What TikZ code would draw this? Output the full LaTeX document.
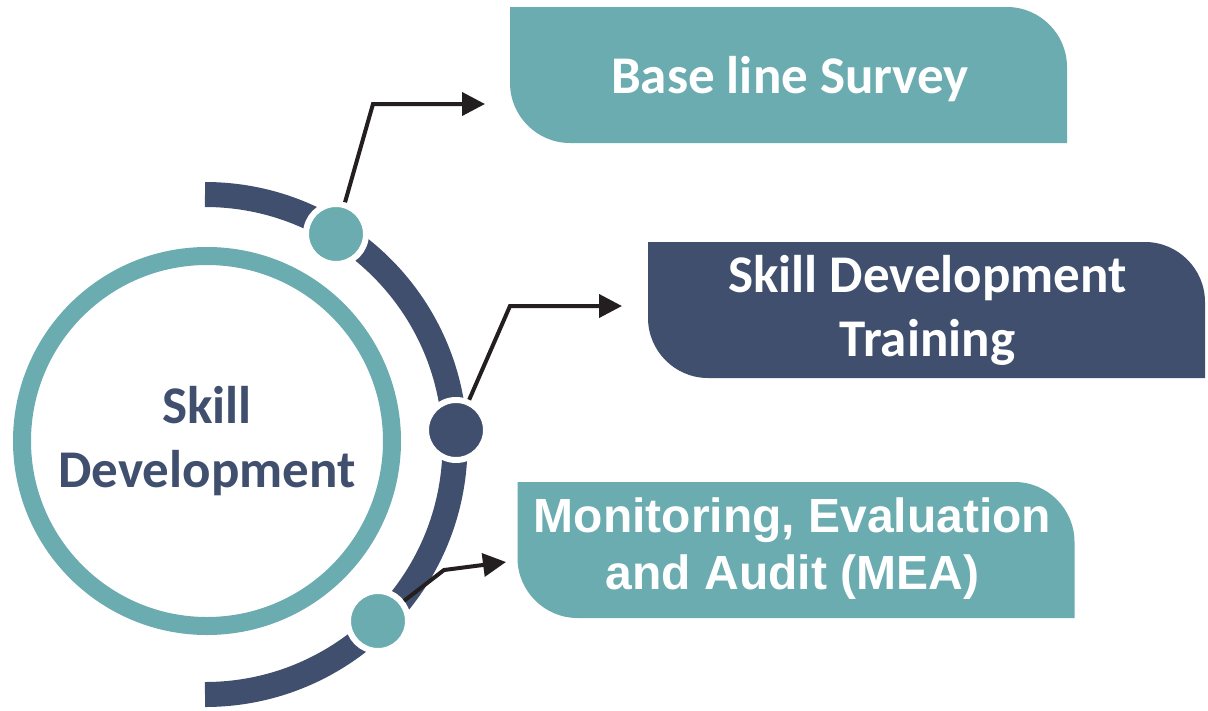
\documentclass[tikz,border=0pt]{standalone}
\usepackage{fontspec}
\newfontfamily\calfont{Carlito}
\newfontfamily\arfont{Liberation Sans}
\usetikzlibrary{arrows.meta}
\definecolor{tealc}{HTML}{6AACB0}
\definecolor{navyc}{HTML}{404F6D}
\definecolor{inkc}{HTML}{231F20}
\newcommand{\tabfill}[2]{%
  \fill[#2] (#1.north west) -- ([xshift=-60pt]#1.north east)
    .. controls ([xshift=-27pt]#1.north east) and ([yshift=-27pt]#1.north east) .. ([yshift=-60pt]#1.north east)
    -- (#1.south east) -- ([xshift=60pt]#1.south west)
    .. controls ([xshift=27pt]#1.south west) and ([yshift=27pt]#1.south west) .. ([yshift=60pt]#1.south west)
    -- cycle;}
\begin{document}
\begin{tikzpicture}[x=1pt,y=-1pt,
  dot/.style={circle, minimum size=60pt, inner sep=0pt, line width=6pt, draw=white},
  tab/.style={rectangle, inner sep=0pt, outer sep=0pt, minimum width=557pt, minimum height=136pt},
  tabtext/.style={text=white, align=center, inner sep=0pt, font=\calfont\bfseries\fontsize{53}{64}\selectfont},
  link/.style={draw=inkc, line width=4pt, -{Triangle[length=23pt,width=23pt]}},
]
\useasboundingbox (0,0) rectangle (1208,710);
% outer dark arc
\draw[navyc, line width=25pt] (205,194.5) arc[start angle=-90, end angle=90, radius=250];
% hub
\node[circle, draw=tealc, line width=18pt, minimum size=370pt, inner sep=0pt, align=center,
      text=navyc, font=\calfont\bfseries\fontsize{53}{64}\selectfont] (hub) at (207,441) {Skill\\Development};
% dots on the arc
\node[dot, fill=tealc] (c1) at (336,234) {};
\node[dot, fill=navyc] (c2) at (456,430) {};
\node[dot, fill=tealc] (c3) at (378,621) {};
% connector coordinates
\coordinate (k1) at (373,104); \coordinate (t1) at (485,104);
\coordinate (k2) at (510,306); \coordinate (t2) at (622,306);
\coordinate (k3) at (444,570); \coordinate (t3) at (506,562);
\draw[link] (c1) -- (k1) -- (t1);
\draw[link] (c2) -- (k2) -- (t2);
\draw[link] (c3) -- (k3) -- (t3);
% boxes
\node[tab] (b1) at (788.5,75) {};
\tabfill{b1}{tealc}
\node[tabtext] (b1t) at (790,79) {Base line Survey};
\node[tab] (b2) at (926.5,310) {};
\tabfill{b2}{navyc}
\node[tabtext] (b2t) at (927.5,310) {Skill Development\\Training};
\node[tab] (b3) at (796,550) {};
\tabfill{b3}{tealc}
\node[tabtext, font=\arfont\bfseries\fontsize{48}{57}\selectfont] (b3t) at (792.5,549) {Monitoring, Evaluation\\and Audit (MEA)};
\end{tikzpicture}
\end{document}
